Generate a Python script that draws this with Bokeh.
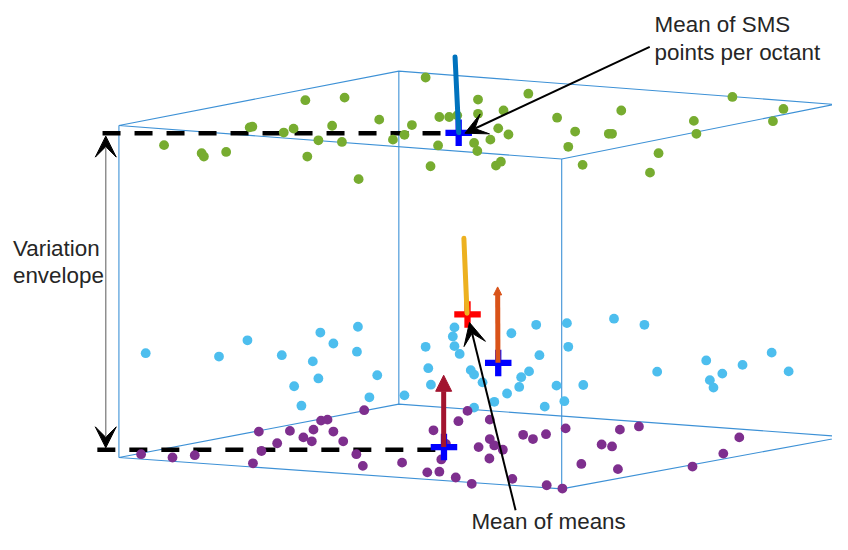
from bokeh.plotting import figure
from bokeh.models import Range1d, Arrow, VeeHead, NormalHead, ColumnDataSource
from bokeh.core.properties import value
from bokeh.embed import file_html
from bokeh.resources import INLINE

# ---------------- data (projected screen-space coordinates) ----------------
green_x = [433.3, 310.7, 350.7, 486.7, 486.7, 512.7, 386.0, 447.3, 457.3, 465.5,
           419.3, 338.0, 254.0, 256.7, 288.7, 298.7, 324.0, 348.0, 400.0, 411.7,
           507.3, 517.7, 499.3, 482.7, 486.0, 446.0, 166.7, 205.0, 207.3, 230.0,
           312.7, 438.3, 505.0, 510.0, 365.0, 538.0, 567.3, 632.7, 746.0, 798.0,
           787.3, 706.7, 709.3, 585.7, 620.0, 623.3, 578.7, 593.3, 670.7, 662.0]
green_y = [79.3, 102.7, 100.0, 102.0, 116.7, 113.3, 122.7, 120.0, 120.0, 118.3,
           128.3, 129.0, 130.7, 130.0, 136.0, 132.0, 144.0, 145.7, 143.3, 138.3,
           131.7, 138.0, 143.3, 146.7, 155.0, 149.3, 149.0, 157.3, 160.7, 156.0,
           160.7, 170.7, 170.0, 166.0, 184.0, 96.0, 120.7, 113.3, 99.3, 111.7,
           124.3, 124.0, 137.3, 135.0, 137.3, 137.3, 150.7, 169.3, 157.3, 177.3]

cyan_x = [148.0, 222.7, 251.7, 286.7, 326.0, 339.3, 364.3, 363.3, 318.3, 324.0,
          299.3, 384.0, 376.0, 306.7, 411.7, 433.3, 436.0, 438.7, 462.7, 461.0,
          462.7, 468.0, 479.3, 482.7, 491.3, 516.3, 503.3, 482.7, 520.7, 546.0,
          577.3, 578.7, 549.3, 538.7, 530.7, 528.7, 566.7, 594.0, 554.7, 574.7,
          625.3, 656.3, 669.3, 719.3, 735.7, 723.0, 726.7, 756.3, 786.0, 803.3]
cyan_y = [363.3, 366.7, 350.0, 365.3, 342.0, 353.3, 336.0, 361.7, 371.7, 389.3,
          397.3, 386.0, 408.7, 417.3, 406.7, 356.7, 378.7, 395.7, 336.7, 346.0,
          356.0, 364.0, 380.7, 385.3, 393.3, 404.8, 413.3, 419.3, 342.7, 334.0,
          332.3, 356.7, 365.3, 382.0, 388.0, 398.0, 396.7, 396.0, 418.3, 412.7,
          327.7, 334.0, 382.3, 370.7, 384.3, 391.0, 398.7, 375.3, 362.7, 382.0]

purple_x = [370.7, 326.7, 333.3, 295.0, 263.3, 319.0, 339.3, 308.7, 317.3, 349.3,
            282.0, 266.0, 143.3, 175.3, 198.0, 257.3, 362.7, 369.3, 409.3, 441.3,
            466.7, 476.0, 498.7, 498.7, 487.3, 503.3, 512.0, 498.3, 449.3, 435.0,
            447.3, 464.0, 480.3, 521.7, 454.0, 532.7, 542.7, 556.0, 576.0, 592.0,
            612.7, 623.3, 629.3, 631.3, 650.7, 705.3, 736.7, 753.0, 556.7, 572.7]
purple_y = [422.0, 432.7, 431.7, 443.3, 444.0, 442.0, 444.0, 450.0, 454.0, 454.0,
            456.0, 464.0, 467.3, 470.7, 468.3, 476.7, 467.3, 479.3, 476.0, 442.7,
            433.3, 422.7, 431.7, 451.7, 460.0, 458.3, 462.7, 471.7, 472.7, 486.0,
            485.3, 491.3, 497.8, 492.7, 456.7, 447.3, 451.7, 446.7, 440.7, 477.3,
            457.3, 459.3, 482.7, 442.0, 438.7, 480.0, 466.7, 450.0, 499.3, 502.7]

# box (projection of the cube)
top_face_x = [120.7, 406.0, 850.0, 572.0]
top_face_y = [128.7, 72.7, 107.0, 163.3]
bottom_face_x = [120.7, 406.0, 860.0, 572.0]
bottom_face_y = [470.7, 415.7, 449.3, 503.0]

# variation envelope levels
env_x0 = [104.0, 98.7]
env_x1 = [460.0, 452.0]
env_y = [136.7, 462.7]

# means (crosses)
mean_x = [467.0, 476.0, 507.3, 452.0]
mean_y = [136.3, 323.3, 373.3, 460.0]
mean_colors = ["#0000FF", "#FF0000", "#0000FF", "#0000FF"]

# mean vectors
vec_x0 = [467.0, 475.5, 507.0, 451.7]
vec_y0 = [136.0, 322.0, 373.0, 460.0]
vec_x1 = [463.3, 472.3, 506.7, 451.7]
vec_y1 = [58.3, 245.0, 295.0, 380.0]
vec_colors = ["#0072BD", "#EDB120", "#D95319", "#A2142F"]

# labels (anchor positions)
label_text = ["Mean of SMS", "points per octant", "Variation", "envelope", "Mean of means"]
label_x = [666.7, 666.7, 12.7, 12.7, 480.0]
label_y = [24.3, 53.7, 255.3, 283.7, 537.0]

# ---------------- figure ----------------
p = figure(width=832, height=534, output_backend="svg", toolbar_location=None,
           x_range=Range1d(0, 848), y_range=Range1d(550, 0),
           x_axis_location=None, y_axis_location=None, min_border=0)
p.grid.visible = False
p.outline_line_color = None
p.background_fill_color = "white"

box_color = "#3d91d6"
p.patch(top_face_x, top_face_y, fill_color=None, line_color=box_color, line_width=1.1)
p.patch(bottom_face_x, bottom_face_y, fill_color=None, line_color=box_color, line_width=1.1)
p.segment(x0=[top_face_x[i] for i in (0, 1, 3)], y0=[top_face_y[i] for i in (0, 1, 3)],
          x1=[bottom_face_x[i] for i in (0, 1, 3)], y1=[bottom_face_y[i] for i in (0, 1, 3)],
          line_color=box_color, line_width=1.1)

# dashed envelope lines
p.segment(x0=env_x0, y0=env_y, x1=env_x1, y1=env_y, line_color="black",
          line_width=4.4, line_dash="18 14")

# points
p.scatter(green_x, green_y, size=9.8, fill_color="#77AC30", line_color=None)
p.scatter(cyan_x, cyan_y, size=9.8, fill_color="#4DBEEE", line_color=None)
p.scatter(purple_x, purple_y, size=9.8, fill_color="#7E2F8E", line_color=None)

# crosses
p.scatter(mean_x, mean_y, marker="cross", size=26.5, line_width=6.3,
          line_color=mean_colors)

# vectors
p.segment(x0=vec_x0[:2], y0=vec_y0[:2], x1=vec_x1[:2], y1=vec_y1[:2],
          line_color=vec_colors[:2], line_width=5, line_cap="round")
p.add_layout(Arrow(x_start=vec_x0[2], y_start=vec_y0[2], x_end=vec_x1[2], y_end=vec_y1[2],
                   line_color=vec_colors[2], line_width=5,
                   end=NormalHead(size=8, fill_color=vec_colors[2], line_color=vec_colors[2])))
p.add_layout(Arrow(x_start=vec_x0[3], y_start=vec_y0[3], x_end=vec_x1[3], y_end=vec_y1[3] + 6,
                   line_color=vec_colors[3], line_width=5,
                   end=NormalHead(size=16, fill_color=vec_colors[3], line_color=vec_colors[3])))

# variation envelope double arrow
p.add_layout(Arrow(x_start=107.3, y_start=env_y[1] - 2, x_end=107.3, y_end=env_y[0] + 3,
                   line_color="#7f7f7f", line_width=1.3,
                   start=VeeHead(size=21, fill_color="black", line_color="black", line_width=1),
                   end=VeeHead(size=21, fill_color="black", line_color="black", line_width=1)))

# annotation arrows
p.add_layout(Arrow(x_start=661.7, y_start=47.7, x_end=473.3, y_end=136.7,
                   line_color="black", line_width=2,
                   end=VeeHead(size=22, fill_color="black", line_color="black", line_width=1)))
p.add_layout(Arrow(x_start=525.0, y_start=525.0, x_end=478.0, y_end=331.7,
                   line_color="black", line_width=2,
                   end=VeeHead(size=22, fill_color="black", line_color="black", line_width=1)))

# labels
src = ColumnDataSource(dict(x=label_x, y=label_y, t=label_text))
p.text(x="x", y="y", text="t", source=src, text_font=value("Liberation Sans"),
       text_font_size="22.4px", text_color="#262626", text_baseline="alphabetic",
       text_align="left")

open("out.html", "w").write(file_html(p, INLINE))
